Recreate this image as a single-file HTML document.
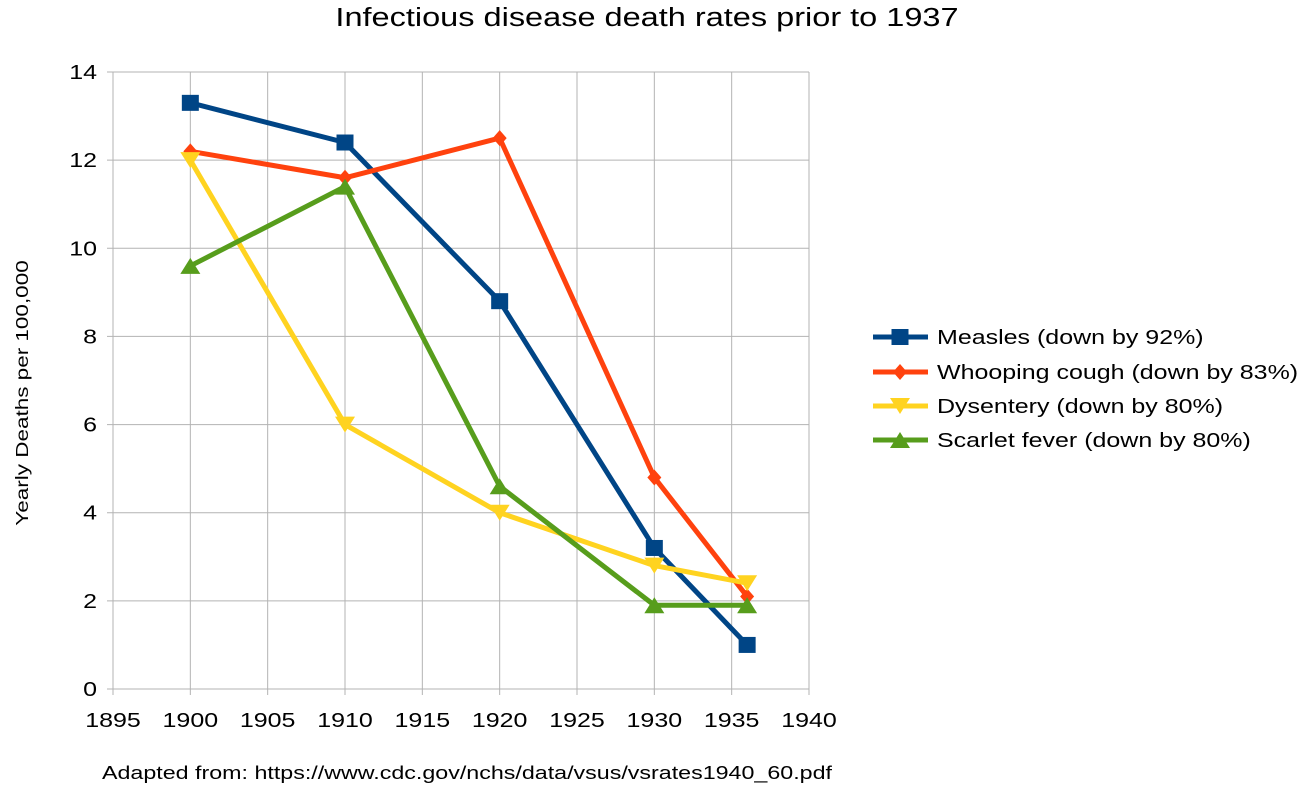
<!DOCTYPE html>
<html><head><meta charset="utf-8"><style>
html,body{margin:0;padding:0;background:#fff;}
svg{display:block;font-family:"Liberation Sans",sans-serif;}
</style></head><body>
<svg id="chart" width="1302" height="791"></svg>
<script>
const years = [1900, 1910, 1920, 1930, 1936];
const measles = [13.3, 12.4, 8.8, 3.2, 1.0];
const whooping = [12.2, 11.6, 12.5, 4.8, 2.1];
const dysentery = [12.0, 6.0, 4.0, 2.8, 2.4];
const scarlet = [9.6, 11.4, 4.6, 1.9, 1.9];
const xTicks = [1895, 1900, 1905, 1910, 1915, 1920, 1925, 1930, 1935, 1940];
const yTicks = [0, 2, 4, 6, 8, 10, 12, 14];
const seriesNames = ["Measles (down by 92%)", "Whooping cough (down by 83%)", "Dysentery (down by 80%)", "Scarlet fever (down by 80%)"];

const NS = "http://www.w3.org/2000/svg";
const svg = document.getElementById("chart");
const X0 = 113, X1 = 809, Y0 = 689, Y1 = 72;
const SX = 1.25;
const xs = v => X0 + (v - 1895) / 45 * (X1 - X0);
const ys = v => Y0 - v / 14 * (Y0 - Y1);
function mk(tag, attrs, parent) {
  const e = document.createElementNS(NS, tag);
  for (const k in attrs) e.setAttribute(k, attrs[k]);
  (parent || svg).appendChild(e);
  return e;
}
function txt(s, x, y, size, anchor, name, parent, rot) {
  const t = mk("text", {x: 0, y: 0, "font-size": size, "text-anchor": anchor || "start", fill: "#000",
    transform: rot ? `translate(${x},${y}) rotate(-90) scale(${SX},1)` : `translate(${x},${y}) scale(${SX},1)`}, parent);
  t.textContent = s;
  
  
  return t;
}
txt("Infectious disease death rates prior to 1937", 647, 26, 26, "middle", "chart-title");
const grid = mk("g", {stroke: "#b3b3b3", "stroke-width": 1});


xTicks.forEach(t => {
  mk("line", {x1: xs(t), x2: xs(t), y1: Y1, y2: Y0 + 6}, grid);
  txt(String(t), xs(t), Y0 + 38, 20, "middle", "x-tick-label");
});
yTicks.forEach(t => {
  mk("line", {x1: X0 - 6, x2: X1, y1: ys(t), y2: ys(t)}, grid);
  txt(String(t), X0 - 16, ys(t) + 7, 20, "end", "y-tick-label");
});
txt("Yearly Deaths per 100,000", 28, 393, 18, "middle", "y-axis-title", null, true);
txt("Adapted from: https://www.cdc.gov/nchs/data/vsus/vsrates1940_60.pdf", 102, 779, 18.6, "start", "source-note");

const colors = ["#004586", "#ff420e", "#ffd320", "#579d1c"];
const data = [measles, whooping, dysentery, scarlet];
const shapes = ["square", "diamond", "down", "up"];
function marker(g, shape, x, y, c) {
  let e;
  if (shape === "square") e = mk("rect", {x: x - 8.5, y: y - 8, width: 17, height: 16, fill: c}, g);
  else if (shape === "diamond") e = mk("polygon", {points: `${x},${y-8} ${x+7},${y} ${x},${y+8} ${x-7},${y}`, fill: c}, g);
  else if (shape === "down") e = mk("polygon", {points: `${x-10},${y-8} ${x+10},${y-8} ${x},${y+8}`, fill: c}, g);
  else e = mk("polygon", {points: `${x-10},${y+8} ${x+10},${y+8} ${x},${y-8}`, fill: c}, g);
  return e;
}
data.forEach((vals, i) => {
  const g = mk("g", {});
  
  
  mk("polyline", {points: vals.map((v, j) => xs(years[j]) + "," + ys(v)).join(" "), fill: "none", stroke: colors[i], "stroke-width": 5, "stroke-linejoin": "round"}, g);
  vals.forEach((v, j) => {
    const m = marker(g, shapes[i], xs(years[j]), ys(v), colors[i]);
    
    
  });
  const ly = [337, 372, 406, 440][i];
  const lg = mk("g", {});
  
  
  mk("line", {x1: 873, x2: 928, y1: ly, y2: ly, stroke: colors[i], "stroke-width": 5}, lg);
  marker(lg, shapes[i], 900, ly, colors[i]);
  txt(seriesNames[i], 937, ly + 7, 20, "start", "legend-label", lg);
});
</script>
</body></html>
